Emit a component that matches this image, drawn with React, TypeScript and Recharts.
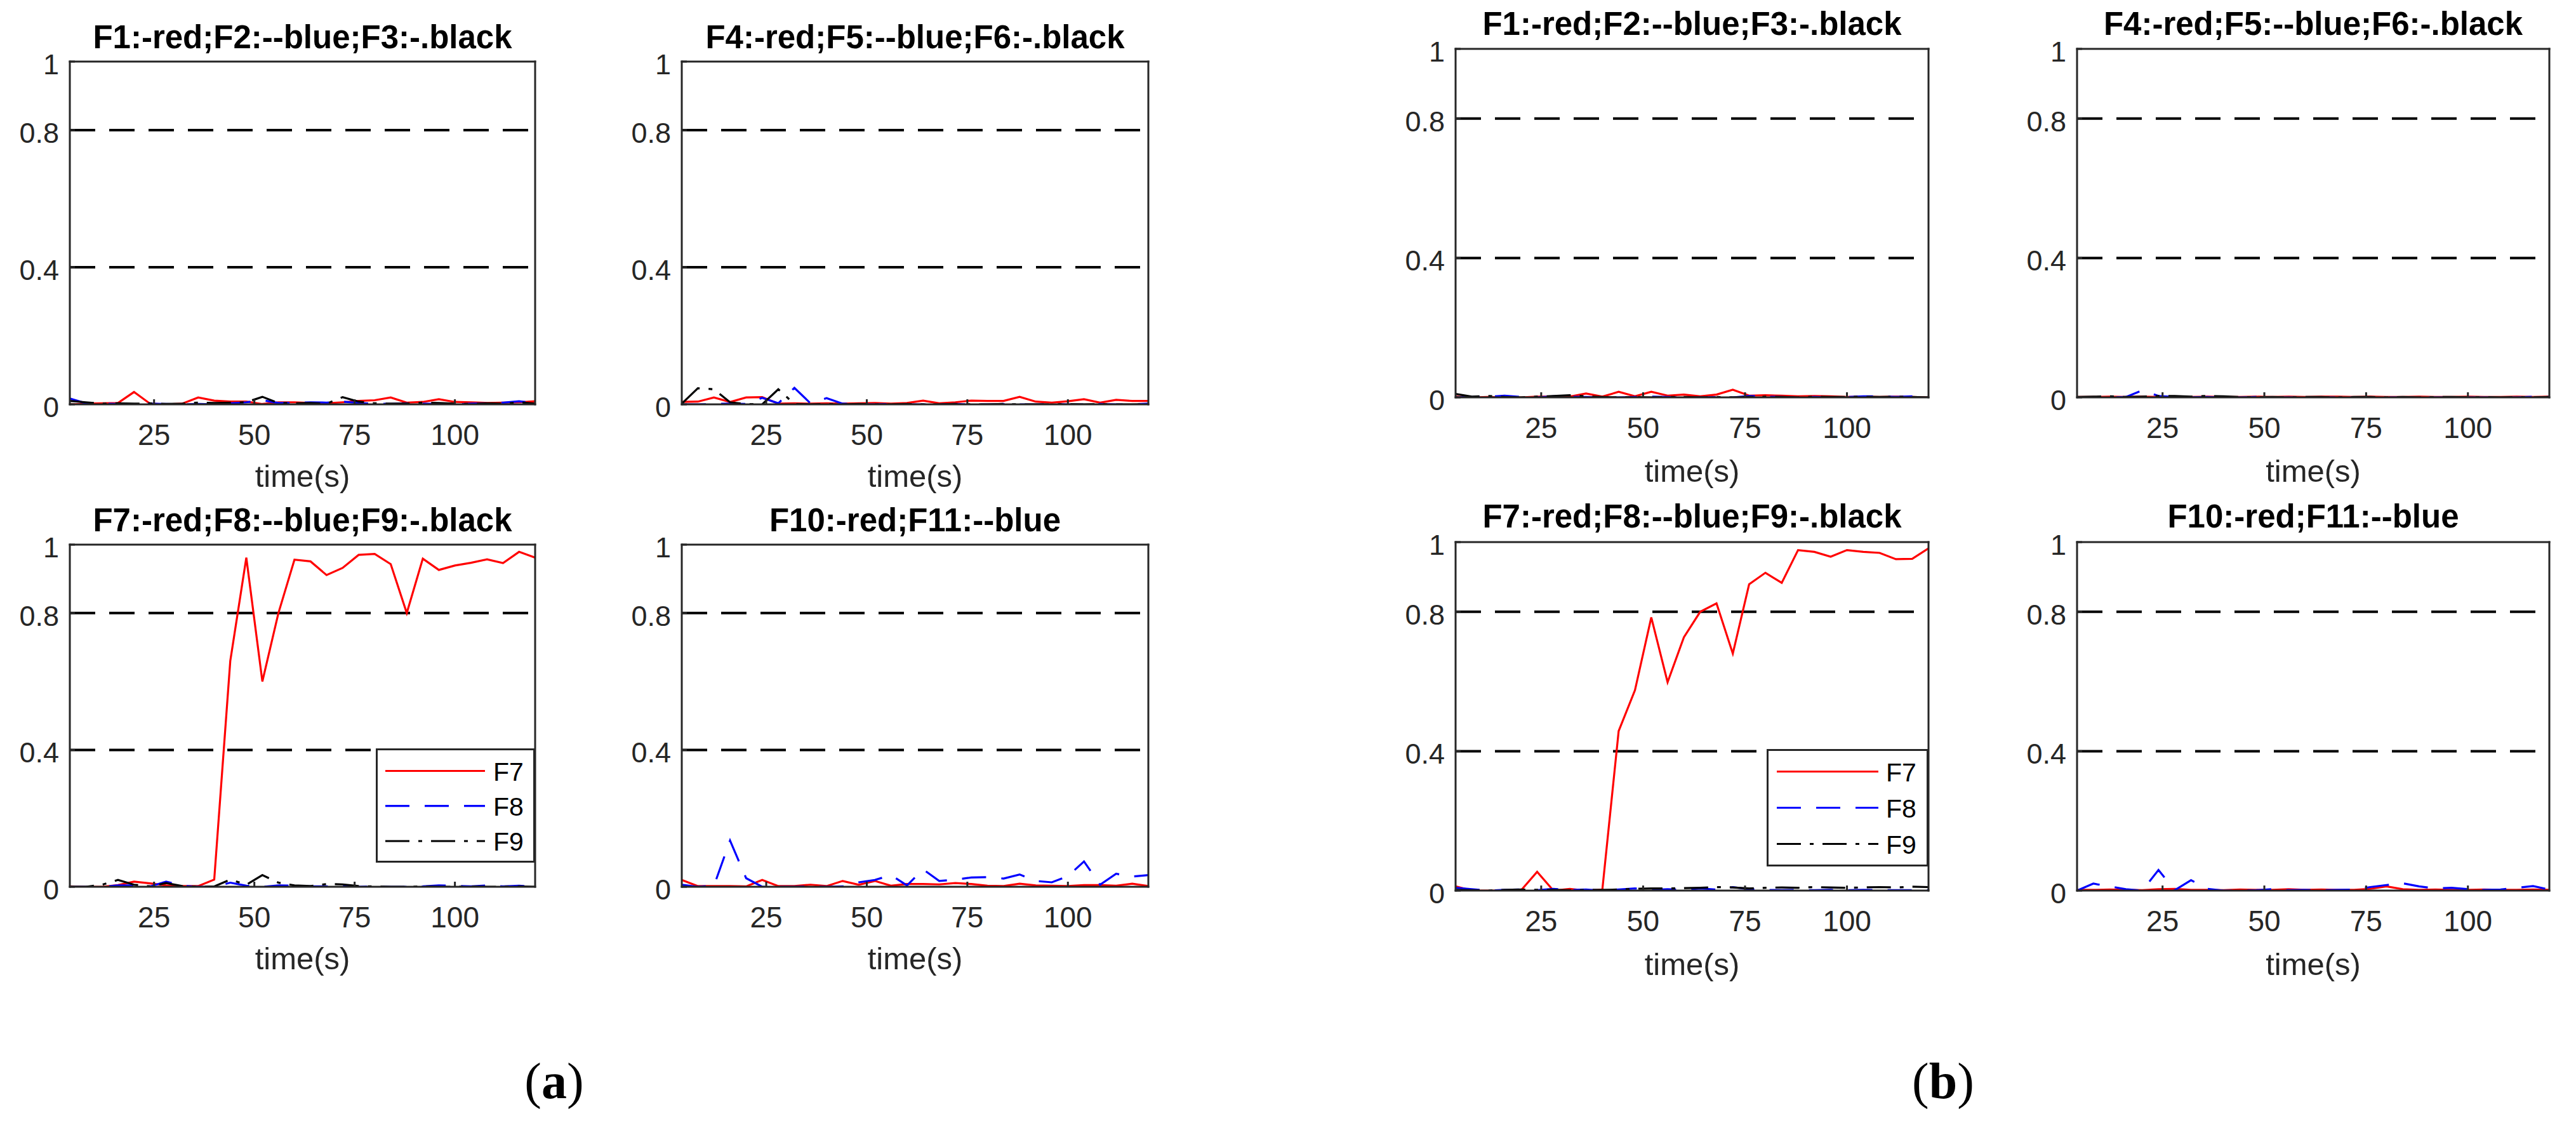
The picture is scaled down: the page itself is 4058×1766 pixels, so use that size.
import React from 'react';
import { LineChart, Line, XAxis, YAxis, ReferenceLine, Legend } from 'recharts';

// ---------- data ----------
const time = [4, 8, 12, 16, 20, 24, 28, 32, 36, 40, 44, 48, 52, 56, 60, 64, 68, 72, 76, 80, 84, 88, 92, 96, 100, 104, 108, 112, 116, 120];
const xTicks = [25, 50, 75, 100];
const yTicks = [0, 0.4, 0.8, 1];
const guideLevels = [0.4, 0.8];

// (a)
const aF1 = [0.0, 0.002, 0.003, 0.004, 0.036, 0.002, 0.0, 0.002, 0.02, 0.011, 0.008, 0.008, 0.001, 0.006, 0.006, 0.004, 0.003, 0.006, 0.01, 0.012, 0.02, 0.005, 0.007, 0.015, 0.007, 0.006, 0.004, 0.005, 0.006, 0.009];
const aF2 = [0.017, 0.003, 0.002, 0.001, 0.0, 0.002, 0.001, 0.0, 0.001, 0.0, 0.003, 0.006, 0.012, 0.004, 0.004, 0.006, 0.005, 0.008, 0.004, 0.002, 0.001, 0.003, 0.002, 0.001, 0.0, 0.002, 0.003, 0.005, 0.009, 0.003];
const aF3 = [0.01, 0.006, 0.002, 0.003, 0.002, 0.003, 0.001, 0.002, 0.005, 0.004, 0.005, 0.006, 0.022, 0.004, 0.003, 0.004, 0.002, 0.021, 0.008, 0.003, 0.002, 0.002, 0.005, 0.004, 0.002, 0.001, 0.003, 0.002, 0.006, 0.002];
const aF4 = [0.007, 0.008, 0.02, 0.007, 0.02, 0.021, 0.002, 0.003, 0.002, 0.003, 0.002, 0.003, 0.004, 0.002, 0.004, 0.011, 0.003, 0.006, 0.011, 0.01, 0.01, 0.022, 0.008, 0.005, 0.009, 0.015, 0.005, 0.013, 0.01, 0.01];
const aF5 = [0.0, 0.0, 0.001, 0.002, 0.001, 0.019, 0.003, 0.048, 0.003, 0.018, 0.002, 0.0, 0.0, 0.001, 0.0, 0.0, 0.0, 0.001, 0.0, 0.0, 0.001, 0.0, 0.0, 0.001, 0.0, 0.0, 0.001, 0.0, 0.0, 0.002];
const aF6 = [0.002, 0.047, 0.044, 0.006, 0.001, 0.0, 0.044, 0.001, 0.0, 0.001, 0.0, 0.001, 0.0, 0.0, 0.001, 0.0, 0.0, 0.001, 0.0, 0.0, 0.001, 0.0, 0.0, 0.0, 0.001, 0.0, 0.001, 0.0, 0.0, 0.001];
const aF7 = [0.001, 0.0, 0.0, 0.005, 0.015, 0.01, 0.004, 0.002, 0.002, 0.021, 0.66, 0.962, 0.6, 0.8, 0.956, 0.951, 0.911, 0.932, 0.97, 0.973, 0.943, 0.8, 0.959, 0.926, 0.939, 0.947, 0.957, 0.946, 0.979, 0.962];
const aF8 = [0.0, 0.0, 0.0, 0.004, 0.004, 0.001, 0.015, 0.003, 0.0, 0.0, 0.012, 0.003, 0.0, 0.004, 0.003, 0.001, 0.001, 0.004, 0.0, 0.001, 0.0, 0.0, 0.001, 0.004, 0.003, 0.001, 0.004, 0.001, 0.003, 0.001];
const aF9 = [0.0, 0.0, 0.006, 0.02, 0.006, 0.001, 0.011, 0.002, 0.0, 0.001, 0.021, 0.006, 0.034, 0.012, 0.004, 0.002, 0.008, 0.007, 0.002, 0.001, 0.0, 0.0, 0.001, 0.0, 0.0, 0.001, 0.0, 0.0, 0.001, 0.0];
const aF10 = [0.02, 0.002, 0.002, 0.002, 0.001, 0.02, 0.002, 0.002, 0.006, 0.002, 0.017, 0.006, 0.017, 0.003, 0.008, 0.008, 0.007, 0.011, 0.008, 0.003, 0.002, 0.009, 0.004, 0.003, 0.002, 0.005, 0.005, 0.003, 0.009, 0.002];
const aF11 = [0.006, 0.0, 0.003, 0.135, 0.025, 0.0, 0.0, 0.0, 0.001, 0.0, 0.001, 0.013, 0.02, 0.034, 0.004, 0.051, 0.017, 0.021, 0.027, 0.028, 0.024, 0.036, 0.017, 0.013, 0.031, 0.074, 0.006, 0.038, 0.03, 0.034];

// (b)
const bF1 = [0.002, 0.0, 0.001, 0.0, 0.0, 0.002, 0.002, 0.002, 0.011, 0.002, 0.016, 0.003, 0.016, 0.005, 0.008, 0.003, 0.008, 0.022, 0.005, 0.006, 0.005, 0.003, 0.004, 0.003, 0.001, 0.002, 0.001, 0.002, 0.001, 0.0];
const bF2 = [0.0, 0.001, 0.002, 0.005, 0.001, 0.0, 0.003, 0.002, 0.001, 0.0, 0.0, 0.001, 0.002, 0.001, 0.0, 0.0, 0.001, 0.0, 0.004, 0.002, 0.001, 0.0, 0.001, 0.0, 0.001, 0.003, 0.003, 0.001, 0.003, 0.001];
const bF3 = [0.01, 0.002, 0.004, 0.001, 0.0, 0.002, 0.004, 0.006, 0.003, 0.001, 0.0, 0.001, 0.0, 0.001, 0.001, 0.0, 0.001, 0.0, 0.001, 0.002, 0.001, 0.0, 0.002, 0.001, 0.001, 0.002, 0.001, 0.002, 0.001, 0.0];
const bF4 = [0.001, 0.001, 0.002, 0.001, 0.002, 0.001, 0.0, 0.001, 0.002, 0.001, 0.001, 0.002, 0.001, 0.002, 0.001, 0.002, 0.002, 0.001, 0.002, 0.001, 0.001, 0.002, 0.001, 0.001, 0.002, 0.001, 0.001, 0.002, 0.001, 0.002];
const bF5 = [0.0, 0.0, 0.0, 0.001, 0.02, 0.004, 0.001, 0.0, 0.001, 0.0, 0.0, 0.001, 0.0, 0.0, 0.0, 0.0, 0.0, 0.0, 0.0, 0.0, 0.0, 0.0, 0.0, 0.0, 0.0, 0.0, 0.0, 0.0, 0.002, 0.001];
const bF6 = [0.001, 0.002, 0.003, 0.001, 0.002, 0.004, 0.004, 0.002, 0.004, 0.003, 0.001, 0.0, 0.001, 0.0, 0.001, 0.001, 0.0, 0.001, 0.001, 0.0, 0.001, 0.0, 0.001, 0.001, 0.0, 0.001, 0.0, 0.001, 0.0, 0.001];
const bF7 = [0.012, 0.0, 0.0, 0.0, 0.0, 0.054, 0.0, 0.005, 0.0, 0.003, 0.458, 0.575, 0.784, 0.598, 0.727, 0.8, 0.824, 0.68, 0.879, 0.912, 0.883, 0.977, 0.972, 0.958, 0.977, 0.972, 0.969, 0.951, 0.952, 0.982];
const bF8 = [0.008, 0.004, 0.0, 0.002, 0.003, 0.001, 0.005, 0.002, 0.003, 0.0, 0.003, 0.006, 0.002, 0.004, 0.002, 0.006, 0.003, 0.01, 0.004, 0.002, 0.001, 0.002, 0.001, 0.002, 0.001, 0.002, 0.001, 0.001, 0.001, 0.001];
const bF9 = [0.002, 0.001, 0.0, 0.002, 0.003, 0.002, 0.002, 0.001, 0.002, 0.002, 0.003, 0.005, 0.006, 0.006, 0.007, 0.008, 0.01, 0.009, 0.006, 0.008, 0.009, 0.008, 0.01, 0.009, 0.008, 0.009, 0.01, 0.009, 0.011, 0.01];
const bF10 = [0.002, 0.002, 0.003, 0.002, 0.001, 0.004, 0.005, 0.002, 0.002, 0.001, 0.003, 0.002, 0.002, 0.004, 0.002, 0.003, 0.002, 0.002, 0.005, 0.012, 0.004, 0.002, 0.003, 0.002, 0.002, 0.003, 0.002, 0.002, 0.003, 0.002];
const bF11 = [0.0, 0.02, 0.012, 0.004, 0.0, 0.059, 0.001, 0.03, 0.005, 0.0, 0.0, 0.001, 0.004, 0.001, 0.002, 0.001, 0.002, 0.003, 0.01, 0.016, 0.021, 0.012, 0.006, 0.008, 0.004, 0.002, 0.003, 0.008, 0.013, 0.003];

// ---------- styles ----------
const SANS = '"Liberation Sans", Arial, Helvetica, sans-serif';
const SERIF = '"Liberation Serif", "Times New Roman", serif';
const AXIS_COLOR = '#262626';
const RED = { color: '#ff0000', dash: undefined as string | undefined };
const BLUE = { color: '#0000ff', dash: '38 24' };
const BLACK = { color: '#000000', dash: '38 14 6 14' };

type Series = { name: string; values: number[]; color: string; dash?: string };
const mk = (name: string, values: number[], st: { color: string; dash?: string }): Series => ({ name, values, color: st.color, dash: st.dash });

type LegendSpec = { left: number; top: number; w: number; h: number; rows: number[]; sx0: number; sx1: number; tx: number };
type PanelSpec = {
  id: string; title: string; x0: number; y0: number; x1: number; y1: number;
  titleY: number; xlabelY: number; series: Series[]; legend?: LegendSpec;
};

const panels: PanelSpec[] = [
  { id: 'aTL', title: 'F1:-red;F2:--blue;F3:-.black', x0: 110, y0: 97, x1: 843, y1: 637, titleY: 76, xlabelY: 767,
    series: [mk('F1', aF1, RED), mk('F2', aF2, BLUE), mk('F3', aF3, BLACK)] },
  { id: 'aTR', title: 'F4:-red;F5:--blue;F6:-.black', x0: 1074, y0: 97, x1: 1809, y1: 637, titleY: 76, xlabelY: 767,
    series: [mk('F4', aF4, RED), mk('F5', aF5, BLUE), mk('F6', aF6, BLACK)] },
  { id: 'aBL', title: 'F7:-red;F8:--blue;F9:-.black', x0: 110, y0: 858, x1: 843, y1: 1397, titleY: 837, xlabelY: 1527,
    series: [mk('F7', aF7, RED), mk('F8', aF8, BLUE), mk('F9', aF9, BLACK)],
    legend: { left: 592, top: 1179, w: 251, h: 180, rows: [35.5, 90.6, 146], sx0: 15, sx1: 172, tx: 185 } },
  { id: 'aBR', title: 'F10:-red;F11:--blue', x0: 1074, y0: 858, x1: 1809, y1: 1397, titleY: 837, xlabelY: 1527,
    series: [mk('F10', aF10, RED), mk('F11', aF11, BLUE)] },
  { id: 'bTL', title: 'F1:-red;F2:--blue;F3:-.black', x0: 2293, y0: 77, x1: 3038, y1: 626, titleY: 55, xlabelY: 759,
    series: [mk('F1', bF1, RED), mk('F2', bF2, BLUE), mk('F3', bF3, BLACK)] },
  { id: 'bTR', title: 'F4:-red;F5:--blue;F6:-.black', x0: 3272, y0: 77, x1: 4016, y1: 626, titleY: 55, xlabelY: 759,
    series: [mk('F4', bF4, RED), mk('F5', bF5, BLUE), mk('F6', bF6, BLACK)] },
  { id: 'bBL', title: 'F7:-red;F8:--blue;F9:-.black', x0: 2293, y0: 854, x1: 3038, y1: 1403, titleY: 831, xlabelY: 1536,
    series: [mk('F7', bF7, RED), mk('F8', bF8, BLUE), mk('F9', bF9, BLACK)],
    legend: { left: 2783, top: 1180, w: 255, h: 185, rows: [35.5, 92.5, 149.5], sx0: 16, sx1: 176, tx: 188 } },
  { id: 'bBR', title: 'F10:-red;F11:--blue', x0: 3272, y0: 854, x1: 4016, y1: 1403, titleY: 831, xlabelY: 1536,
    series: [mk('F10', bF10, RED), mk('F11', bF11, BLUE)] },
];

const frameLine: any = { stroke: AXIS_COLOR, strokeWidth: 3, strokeLinecap: 'square' };
const tickLineStyle: any = { stroke: AXIS_COLOR, strokeWidth: 3 };

const XTick = (props: any) => {
  const { x, y, payload } = props;
  return (
    <text x={x} y={y + 64} textAnchor="middle" fontSize={46} fill={AXIS_COLOR} fontFamily={SANS}>
      {String(payload.value)}
    </text>
  );
};

const YTick = (props: any) => {
  const { x, y, payload } = props;
  return (
    <text x={x - 17} y={y + 20} textAnchor="end" fontSize={45} fill={AXIS_COLOR} fontFamily={SANS}>
      {String(payload.value)}
    </text>
  );
};

function LegendBox({ spec, series, payload }: { spec: LegendSpec; series: Series[]; payload?: any[] }) {
  const items = (payload && payload.length ? payload.map((p: any) => series.find((s) => s.name === (p.value ?? p.dataKey)) || null) : series).filter(Boolean) as Series[];
  return (
    <svg width={spec.w} height={spec.h} style={{ display: 'block' }}>
      <rect x={1.5} y={1.5} width={spec.w - 3} height={spec.h - 3} fill="#ffffff" stroke={AXIS_COLOR} strokeWidth={3} />
      {items.map((s, i) => (
        <g key={s.name}>
          <line x1={spec.sx0} x2={spec.sx1} y1={spec.rows[i]} y2={spec.rows[i]} stroke={s.color} strokeWidth={3.2} strokeDasharray={s.dash} />
          <text x={spec.tx} y={spec.rows[i] + 15} fontSize={41} fill="#000" fontFamily={SANS}>{s.name}</text>
        </g>
      ))}
    </svg>
  );
}

function Panel({ p }: { p: PanelSpec }) {
  const data = time.map((t, i) => {
    const row: any = { t };
    p.series.forEach((s) => { row[s.name] = s.values[i]; });
    return row;
  });
  const left = p.x0 - 150;
  const top = p.y0 - 20;
  const w = p.x1 - p.x0 + 170;
  const h = p.y1 - p.y0 + 120;
  return (
    <div style={{ position: 'absolute', left, top, width: w, height: h }}>
      <LineChart width={w} height={h} data={data} margin={{ top: 0, right: 0, bottom: 0, left: 0 }}>
        <XAxis xAxisId={0} dataKey="t" type="number" domain={[4, 120]} ticks={xTicks} allowDataOverflow
          orientation="bottom" height={100} axisLine={frameLine} tickLine={tickLineStyle}
          tickSize={-8} tickMargin={8} tick={XTick} interval={0} />
        <XAxis xAxisId="top" dataKey="t" type="number" domain={[4, 120]} ticks={xTicks} allowDataOverflow
          orientation="top" height={20} axisLine={frameLine} tickLine={tickLineStyle}
          tickSize={-8} tick={false} interval={0} />
        <YAxis yAxisId={0} type="number" domain={[0, 1]} ticks={yTicks} allowDataOverflow width={150}
          axisLine={frameLine} tickLine={tickLineStyle} tickSize={-8} tickMargin={8} tick={YTick} interval={0} />
        <YAxis yAxisId="right" orientation="right" type="number" domain={[0, 1]} ticks={yTicks} allowDataOverflow width={20}
          axisLine={frameLine} tickLine={tickLineStyle} tickSize={-8} tick={false} interval={0} />
        {guideLevels.map((v) => (
          <ReferenceLine key={v} y={v} xAxisId={0} yAxisId={0} stroke="#000000" strokeWidth={4} strokeDasharray="40 22" />
        ))}
        {p.series.map((s) => (
          <Line key={s.name} xAxisId={0} yAxisId={0} type="linear" dataKey={s.name} name={s.name}
            stroke={s.color} strokeWidth={3.2} strokeDasharray={s.dash} dot={false} activeDot={false}
            isAnimationActive={false} legendType="line" />
        ))}
        {p.legend && (
          <Legend layout="vertical" align="center" verticalAlign="middle"
            wrapperStyle={{ left: p.legend.left - left, top: p.legend.top - top, width: p.legend.w, height: p.legend.h, margin: 0, padding: 0 }}
            content={(props: any) => <LegendBox spec={p.legend as LegendSpec} series={p.series} payload={props.payload} />} />
        )}
      </LineChart>
    </div>
  );
}

export default function App() {
  return (
    <div style={{ position: 'absolute', left: 0, top: 0, width: 4058, height: 1766, background: '#ffffff', overflow: 'hidden' }}>
      {panels.map((p) => <Panel key={p.id} p={p} />)}
      <svg width={4058} height={1766} style={{ position: 'absolute', left: 0, top: 0, pointerEvents: 'none' }}>
        {panels.map((p) => (
          <g key={p.id + '-txt'}>
            <text x={(p.x0 + p.x1) / 2} y={p.titleY} textAnchor="middle" fontSize={51} fontWeight="bold" fill="#000" fontFamily={SANS}>{p.title}</text>
            <text x={(p.x0 + p.x1) / 2} y={p.xlabelY} textAnchor="middle" fontSize={49} fill={AXIS_COLOR} fontFamily={SANS}>time(s)</text>
          </g>
        ))}
        <text x={873} y={1730} textAnchor="middle" fontSize={80} fill="#000" fontFamily={SERIF}>(<tspan fontWeight="bold">a</tspan>)</text>
        <text x={3061} y={1730} textAnchor="middle" fontSize={80} fill="#000" fontFamily={SERIF}>(<tspan fontWeight="bold">b</tspan>)</text>
      </svg>
    </div>
  );
}
